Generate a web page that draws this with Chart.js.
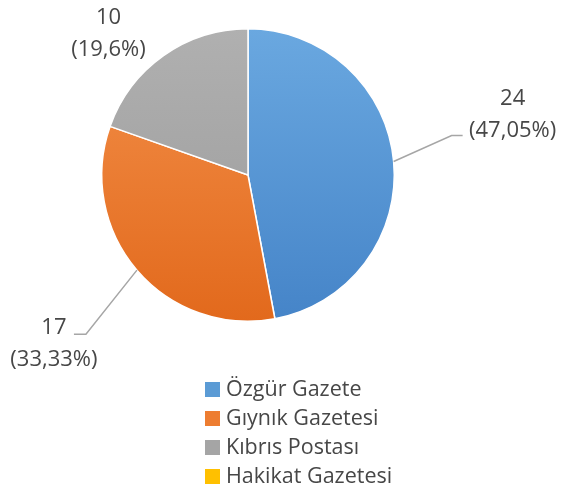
<!DOCTYPE html>
<html lang="tr">
<head>
  <meta charset="UTF-8" />
  <title>Gazeteler</title>
  <script src="https://cdn.jsdelivr.net/npm/chart.js"></script>
  <style>
    body { margin: 0; background: #fff; font-family: "Open Sans", Lato, sans-serif; }
    #wrap { position: relative; width: 562px; height: 488px; }
    #pie { position: absolute; left: 0; top: 0; }
    #legend { position: absolute; left: 205px; top: 373px; list-style: none; margin: 0; padding: 0; }
    #legend li { height: 29px; line-height: 29px; font-size: 21.5px; color: #474747; white-space: nowrap; }
    #legend span { display: inline-block; width: 15px; height: 15px; margin-right: 6px; vertical-align: -1px; }
  </style>
</head>
<body>
  <div id="wrap">
    <canvas id="pie" width="562" height="488"></canvas>
    <ul id="legend"></ul>
  </div>

  <script>
    // veriler
    const labels = ["Özgür Gazete", "Gıynık Gazetesi", "Kıbrıs Postası", "Hakikat Gazetesi"];
    const values = [24, 17, 10, 0];
    const percentLabels = ["47,05%", "33,33%", "19,6%", ""];

    // renkler (üst açık, alt koyu)
    const colorsTop = ["#6aa8e0", "#f3904a", "#b0b0b0", "#ffc000"];
    const colorsBottom = ["#4584c8", "#e2691c", "#9a9a9a", "#ffc000"];
    const legendColors = ["#5b9bd5", "#ed7d31", "#a5a5a5", "#ffc000"];

    // etiket konumları: kenar noktasına göre (dirsek, yazı merkezi)
    const labelPlace = [
      { elbow: [58, -26], end: [69, -26], text: [119, -47] },
      { elbow: [-51, 64], end: [-63, 64], text: [-83, 74] },
      null,
      null
    ];
    const grayLabel = { text: [-55, -22] };

    const labelPlugin = {
      id: "sliceLabels",
      afterDatasetsDraw(chart) {
        const ctx = chart.ctx;
        const arcs = chart.getDatasetMeta(0).data;
        ctx.save();
        ctx.font = "22px 'Open Sans', sans-serif";
        ctx.fillStyle = "#474747";
        ctx.textAlign = "center";
        ctx.textBaseline = "middle";
        arcs.forEach((arc, i) => {
          if (!values[i]) return;
          const mid = (arc.startAngle + arc.endAngle) / 2;
          const ex = arc.x + Math.cos(mid) * arc.outerRadius;
          const ey = arc.y + Math.sin(mid) * arc.outerRadius;
          let p = labelPlace[i];
          if (p) {
            ctx.strokeStyle = "#a6a6a6";
            ctx.lineWidth = 1.5;
            ctx.beginPath();
            ctx.moveTo(ex, ey);
            ctx.lineTo(ex + p.elbow[0], ey + p.elbow[1]);
            ctx.lineTo(ex + p.end[0], ey + p.end[1]);
            ctx.stroke();
          } else {
            p = grayLabel;
          }
          const tx = ex + p.text[0];
          const ty = ey + p.text[1];
          ctx.fillText(String(values[i]), tx, ty - 16);
          ctx.fillText("(" + percentLabels[i] + ")", tx, ty + 16);
        });
        ctx.restore();
      }
    };

    function sliceColor(c) {
      const i = c.dataIndex;
      const area = c.chart.chartArea;
      if (!area) return legendColors[i];
      const g = c.chart.ctx.createLinearGradient(0, area.top, 0, area.bottom);
      g.addColorStop(0, colorsTop[i]);
      g.addColorStop(1, colorsBottom[i]);
      return g;
    }

    new Chart(document.getElementById("pie"), {
      type: "pie",
      data: {
        labels: labels,
        datasets: [{
          data: values,
          backgroundColor: sliceColor,
          borderColor: "#ffffff",
          borderWidth: 1.5
        }]
      },
      options: {
        responsive: false,
        animation: false,
        layout: { padding: { left: 101, right: 167, top: 28, bottom: 166 } },
        plugins: {
          legend: { display: false },
          tooltip: { enabled: false }
        }
      },
      plugins: [labelPlugin]
    });

    // lejant
    const ul = document.getElementById("legend");
    labels.forEach((name, i) => {
      const li = document.createElement("li");
      const box = document.createElement("span");
      box.style.background = legendColors[i];
      li.appendChild(box);
      li.appendChild(document.createTextNode(name));
      ul.appendChild(li);
    });
  </script>
</body>
</html>
